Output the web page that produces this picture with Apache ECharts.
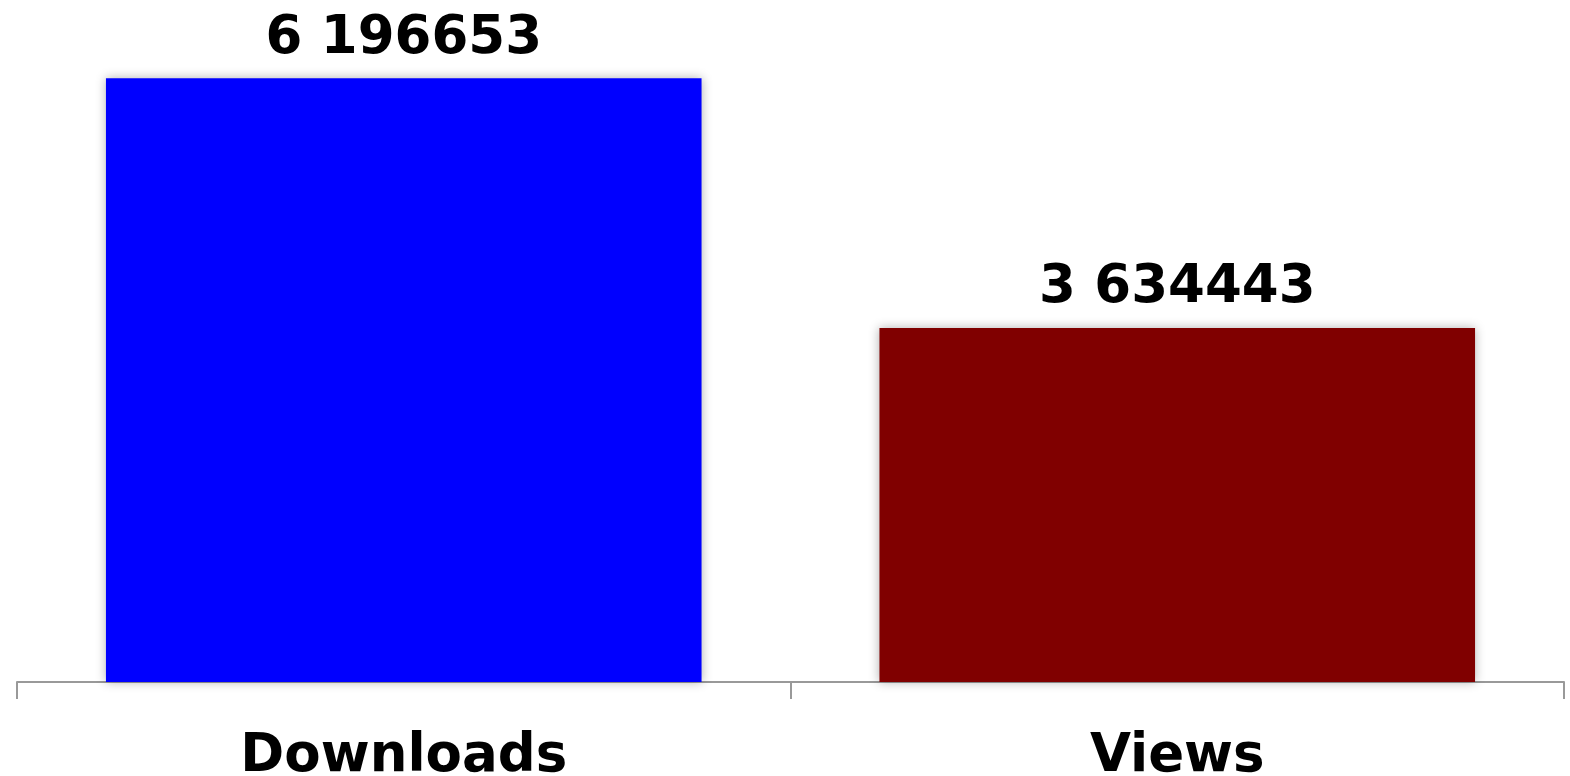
<!DOCTYPE html>
<html>
<head>
<meta charset="utf-8">
<script src="https://cdn.jsdelivr.net/npm/echarts@6/dist/echarts.min.js"></script>
<style>html,body{margin:0;padding:0;background:#fff}#c{width:1570px;height:776px}</style>
</head>
<body>
<div id="c"></div>
<script>
const categories = ['Downloads', 'Views'];
const values = [6196653, 3634443];
const valueLabels = ['6 196653', '3 634443'];
const barColors = ['#0000ff', '#800000'];

const chart = echarts.init(document.getElementById('c'), null, {renderer: 'canvas'});
chart.setOption({
  animation: false,
  grid: {left: 17, right: 6, top: 0, bottom: 94, containLabel: false, outerBoundsMode: 'none'},
  xAxis: {
    type: 'category',
    data: categories,
    axisLine: {show: true, lineStyle: {color: '#999999', width: 2}},
    axisTick: {show: true, length: 17, lineStyle: {color: '#999999', width: 2}},
    axisLabel: {color: '#000', fontFamily: 'DejaVu Sans', fontWeight: 'bold', fontSize: 53, margin: 49}
  },
  yAxis: {
    type: 'value', min: 0, max: 7000000,
    show: false, splitLine: {show: false}
  },
  series: [{
    type: 'bar',
    barWidth: '77%',
    data: values.map((v, i) => ({value: v, itemStyle: {color: barColors[i]}})),
    itemStyle: {shadowBlur: 10, shadowColor: 'rgba(0,0,0,0.3)'},
    label: {
      show: true, position: 'top', distance: 13,
      color: '#000', fontFamily: 'DejaVu Sans', fontWeight: 'bold', fontSize: 53,
      formatter: p => valueLabels[p.dataIndex]
    }
  }]
});
</script>
</body>
</html>
